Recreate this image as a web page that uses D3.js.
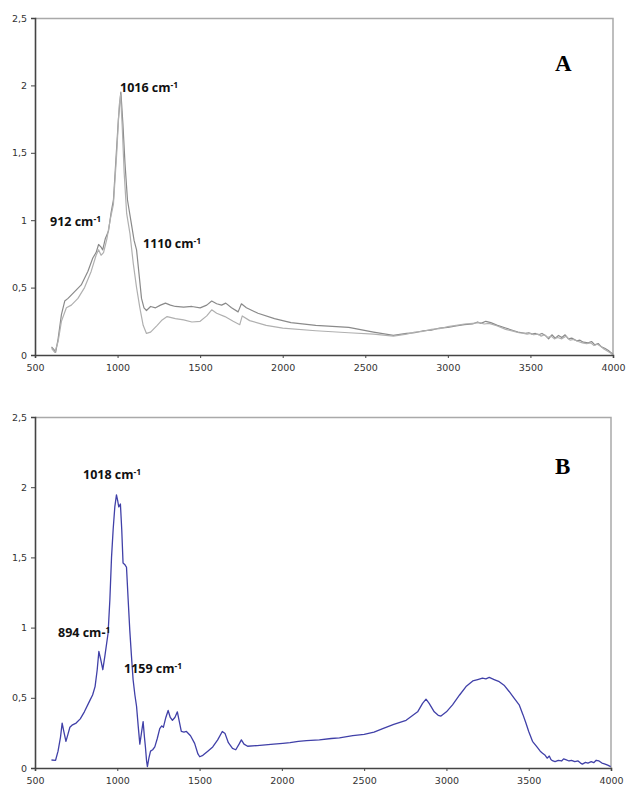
<!DOCTYPE html>
<html>
<head>
<meta charset="utf-8">
<script src="https://cdn.jsdelivr.net/npm/d3@7"></script>
<style>
  body { margin: 0; background: #fff; }
  .axis text { font-family: "DejaVu Sans", Verdana, sans-serif; font-size: 9.5px; fill: #333; }
  .peak-label { font-family: "Open Sans", "Liberation Sans", sans-serif; font-weight: bold; font-size: 12.5px; fill: #111; }
  .panel-label { font-family: "Liberation Serif", "DejaVu Serif", serif; font-weight: bold; font-size: 23px; fill: #000; }
</style>
</head>
<body>
<div id="chart"></div>
<script>
// wavenumber (cm-1) vs absorbance
var spectrumA1 = [
  [600,0.06],[615,0.04],[625,0.02],[640,0.12],[660,0.30],[680,0.40],[700,0.42],[740,0.47],[780,0.52],
  [820,0.62],[850,0.72],[870,0.76],[885,0.82],[900,0.80],[910,0.78],[925,0.86],[945,0.92],[960,1.05],
  [975,1.15],[990,1.45],[1005,1.75],[1020,1.95],[1032,1.72],[1045,1.42],[1060,1.15],[1080,1.0],[1100,0.85],
  [1115,0.78],[1130,0.6],[1145,0.42],[1160,0.35],[1175,0.33],[1200,0.36],[1230,0.35],[1260,0.37],[1290,0.385],
  [1320,0.37],[1350,0.36],[1400,0.355],[1450,0.36],[1500,0.35],[1540,0.37],[1570,0.40],[1600,0.38],[1630,0.37],
  [1655,0.385],[1690,0.35],[1730,0.32],[1750,0.38],[1780,0.35],[1850,0.31],[1950,0.27],[2050,0.24],[2200,0.22],
  [2400,0.205],[2550,0.17],[2670,0.145],[2750,0.16],[2800,0.165],[2850,0.18],[2900,0.185],[2950,0.20],[3000,0.205],
  [3050,0.215],[3100,0.225],[3150,0.23],[3180,0.245],[3200,0.235],[3230,0.25],[3260,0.24],[3300,0.22],[3350,0.20],
  [3400,0.18],[3425,0.17],[3450,0.165],[3470,0.16],[3490,0.165],[3510,0.155],[3530,0.16],[3550,0.15],[3570,0.16],
  [3590,0.145],[3610,0.12],[3630,0.15],[3650,0.125],[3670,0.145],[3690,0.13],[3710,0.15],[3730,0.12],[3750,0.125],
  [3780,0.105],[3800,0.11],[3820,0.095],[3850,0.09],[3870,0.10],[3890,0.075],[3910,0.085],[3930,0.06],[3950,0.05],
  [3970,0.035],[3985,0.02],[4000,0.005]
];

var spectrumA2 = [
  [600,0.05],[620,0.02],[640,0.10],[660,0.25],[690,0.35],[720,0.37],[760,0.42],[800,0.50],[840,0.62],
  [870,0.74],[885,0.78],[900,0.74],[915,0.76],[935,0.86],[955,1.0],[975,1.12],[995,1.5],[1010,1.85],
  [1018,1.93],[1028,1.7],[1040,1.35],[1055,1.05],[1075,0.9],[1095,0.68],[1115,0.5],[1135,0.35],[1155,0.22],
  [1175,0.16],[1200,0.17],[1240,0.22],[1270,0.26],[1300,0.285],[1350,0.27],[1400,0.26],[1450,0.245],[1500,0.25],
  [1540,0.29],[1570,0.335],[1600,0.31],[1650,0.285],[1700,0.25],[1740,0.225],[1755,0.29],[1800,0.255],[1900,0.22],
  [2000,0.20],[2200,0.18],[2400,0.165],[2550,0.155],[2670,0.14],[2750,0.155],[2800,0.17],[2850,0.175],[2900,0.19],
  [2950,0.195],[3000,0.21],[3050,0.22],[3100,0.23],[3150,0.235],[3190,0.24],[3220,0.23],[3250,0.235],[3300,0.215],
  [3350,0.19],[3400,0.175],[3430,0.165],[3460,0.16],[3480,0.155],[3500,0.16],[3520,0.15],[3545,0.155],[3565,0.14],
  [3585,0.15],[3605,0.13],[3625,0.14],[3645,0.12],[3665,0.13],[3690,0.12],[3715,0.14],[3740,0.11],[3760,0.115],
  [3790,0.10],[3815,0.09],[3840,0.085],[3865,0.09],[3885,0.07],[3905,0.08],[3925,0.065],[3945,0.045],[3965,0.03],
  [3985,0.015],[4000,0.0]
];

var spectrumB = [
  [600,0.057],[625,0.055],[640,0.12],[655,0.22],[665,0.32],[675,0.26],[688,0.19],[700,0.24],[712,0.29],
  [725,0.305],[750,0.32],[775,0.35],[800,0.40],[833,0.48],[850,0.52],[865,0.58],[878,0.70],[888,0.83],
  [898,0.78],[912,0.70],[925,0.80],[944,0.96],[955,1.2],[965,1.5],[975,1.7],[985,1.86],[995,1.945],
  [1003,1.90],[1009,1.86],[1019,1.88],[1027,1.70],[1035,1.46],[1045,1.45],[1056,1.43],[1066,1.2],[1076,0.98],
  [1086,0.8],[1096,0.63],[1107,0.52],[1117,0.44],[1127,0.30],[1137,0.17],[1147,0.25],[1157,0.33],[1165,0.22],
  [1171,0.15],[1178,0.05],[1183,0.01],[1192,0.07],[1202,0.12],[1215,0.13],[1228,0.15],[1243,0.21],[1258,0.28],
  [1270,0.30],[1280,0.29],[1295,0.36],[1309,0.41],[1322,0.36],[1335,0.34],[1350,0.36],[1365,0.40],[1377,0.33],
  [1389,0.26],[1405,0.255],[1420,0.26],[1445,0.23],[1470,0.175],[1490,0.10],[1501,0.08],[1520,0.09],[1550,0.12],
  [1580,0.15],[1610,0.20],[1638,0.26],[1655,0.245],[1675,0.18],[1700,0.14],[1720,0.13],[1740,0.17],[1754,0.20],
  [1770,0.17],[1792,0.155],[1850,0.16],[1900,0.165],[1950,0.17],[2006,0.175],[2050,0.18],[2100,0.19],[2150,0.195],
  [2228,0.20],[2300,0.21],[2350,0.215],[2431,0.23],[2500,0.24],[2560,0.255],[2613,0.28],[2680,0.31],[2755,0.34],
  [2790,0.37],[2825,0.40],[2855,0.46],[2876,0.49],[2895,0.46],[2926,0.40],[2950,0.375],[2967,0.37],[3000,0.40],
  [3037,0.45],[3080,0.52],[3119,0.58],[3160,0.62],[3190,0.63],[3219,0.64],[3240,0.635],[3260,0.645],[3290,0.63],
  [3321,0.615],[3350,0.59],[3381,0.545],[3410,0.50],[3442,0.45],[3465,0.38],[3483,0.32],[3500,0.26],[3523,0.19],
  [3550,0.15],[3570,0.12],[3584,0.105],[3600,0.09],[3612,0.07],[3625,0.085],[3635,0.06],[3644,0.052],[3660,0.045],
  [3680,0.055],[3700,0.05],[3712,0.065],[3725,0.06],[3745,0.05],[3760,0.055],[3780,0.045],[3800,0.05],[3815,0.035],
  [3826,0.028],[3845,0.04],[3860,0.035],[3880,0.045],[3895,0.038],[3910,0.055],[3927,0.05],[3945,0.035],[3960,0.03],
  [3980,0.02],[3998,0.01]
];

var xTicks = [500, 1000, 1500, 2000, 2500, 3000, 3500, 4000];
var yTicks = [0, 0.5, 1, 1.5, 2, 2.5];

var peaksA = [
  { x: 120, y: 92, label: "1016 cm", sup: "-1" },
  { x: 50, y: 226, label: "912 cm", sup: "-1" },
  { x: 143, y: 248, label: "1110 cm", sup: "-1" }
];
var peaksB = [
  { x: 83, y: 479, label: "1018 cm", sup: "-1" },
  { x: 58, y: 637, label: "894 cm-", sup: "1" },
  { x: 124, y: 673, label: "1159 cm", sup: "-1" }
];

var svg = d3.select("#chart")
  .append("svg")
  .attr("width", 629)
  .attr("height", 788)

var commaFormat = function(d) { return String(d).replace(".", ","); }

function panel(left, top, right, bottom, seriesList, peaks, letter, letterX, letterY) {
  var width = right - left,
      height = bottom - top;

  var g = svg.append("g")
    .attr("transform", "translate(" + left + "," + top + ")")

  var xScale = d3.scaleLinear()
    .domain([500, 4000])
    .range([0, width])

  var yScale = d3.scaleLinear()
    .domain([0, 2.5])
    .range([height, 0])

  // light frame on top and right
  g.append("path")
    .attr("d", "M0,0.5H" + width + "V" + height)
    .attr("stroke", "#a9a9a9")
    .attr("stroke-width", 1.5)
    .attr("fill", "none")

  var line = d3.line()
    .x(function(d) { return xScale(d[0]) })
    .y(function(d) { return yScale(d[1]) })

  seriesList.forEach(function(s) {
    g.append("path")
      .datum(s.data)
      .attr("d", line)
      .attr("stroke", s.color)
      .attr("stroke-width", s.width)
      .attr("fill", "none")
      .attr("stroke-linejoin", "round")
  })

  var yAxis = d3.axisLeft(yScale)
    .tickValues(yTicks)
    .tickFormat(commaFormat)
    .tickSizeOuter(0)
    .tickSize(4)
    .tickPadding(4)
  g.append("g")
    .attr("class", "axis y-axis")
    .call(yAxis)

  var xAxis = d3.axisBottom(xScale)
    .tickValues(xTicks)
    .tickFormat(d3.format("d"))
    .tickSizeOuter(0)
    .tickSize(3)
    .tickPadding(6)
  g.append("g")
    .attr("class", "axis x-axis")
    .attr("transform", "translate(0," + height + ")")
    .call(xAxis)

  svg.selectAll(".axis .domain").attr("stroke", "#444").attr("stroke-width", 1.6)
  svg.selectAll(".axis .tick line").attr("stroke", "#444")

  peaks.forEach(function(p) {
    var t = svg.append("text")
      .attr("class", "peak-label")
      .attr("x", p.x)
      .attr("y", p.y)
    t.append("tspan").text(p.label)
    t.append("tspan")
      .attr("dy", -4)
      .style("font-size", "8.5px")
      .text(p.sup)
  })

  svg.append("text")
    .attr("class", "panel-label")
    .attr("x", letterX)
    .attr("y", letterY)
    .text(letter)
}

panel(35, 18, 613, 355, [
  { data: spectrumA1, color: "#8a8a8a", width: 1.2 },
  { data: spectrumA2, color: "#b0b0b0", width: 1.2 }
], peaksA, "A", 555, 71);

panel(35, 417, 611, 768, [
  { data: spectrumB, color: "#4040a8", width: 1.3 }
], peaksB, "B", 555, 474);
</script>
</body>
</html>
